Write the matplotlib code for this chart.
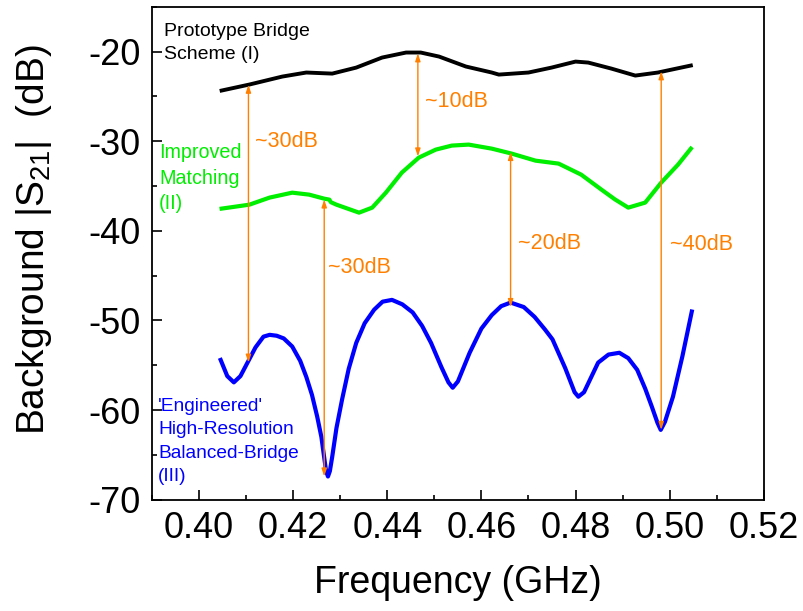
import matplotlib
matplotlib.use("Agg")
import matplotlib.pyplot as plt

plt.rcParams['font.family'] = ['Liberation Sans', 'DejaVu Sans']
plt.rcParams['mathtext.fontset'] = 'custom'
plt.rcParams['mathtext.rm'] = 'Liberation Sans'
plt.rcParams['mathtext.it'] = 'Liberation Sans:italic'
plt.rcParams['axes.unicode_minus'] = False

# (I) prototype bridge scheme
f_proto = [0.4048, 0.4107, 0.4177, 0.4228, 0.4283, 0.4334, 0.4389, 0.4440,
           0.4471, 0.4510, 0.4567, 0.4622, 0.4637, 0.4700, 0.4749, 0.4800,
           0.4827, 0.4876, 0.4927, 0.4975, 0.5045]
s_proto = [-24.35, -23.68, -22.79, -22.34, -22.46, -21.79, -20.67, -20.11,
           -20.11, -20.56, -21.67, -22.34, -22.57, -22.34, -21.79, -21.12,
           -21.23, -21.90, -22.68, -22.34, -21.56]

# (II) improved matching
f_match = [0.4048, 0.4107, 0.4150, 0.4198, 0.4234, 0.4266, 0.4277, 0.4280,
           0.4292, 0.4340, 0.4368, 0.4397, 0.4431, 0.4467, 0.4503, 0.4537,
           0.4573, 0.4622, 0.4664, 0.4715, 0.4764, 0.4812, 0.4855, 0.4884,
           0.4912, 0.4948, 0.4982, 0.5018, 0.5045]
s_match = [-37.52, -37.08, -36.29, -35.74, -35.96, -36.41, -36.52, -36.8,
           -37.08, -37.97, -37.41, -35.74, -33.50, -31.83, -30.94, -30.49,
           -30.38, -30.83, -31.38, -32.17, -32.50, -33.73, -35.40, -36.5,
           -37.41, -36.85, -34.62, -32.6, -30.83]

# (III) engineered high-resolution balanced bridge
f_bridge = [0.4046, 0.4060, 0.4074, 0.4088, 0.4103, 0.4120, 0.4137, 0.4150,
            0.4165, 0.4180, 0.4198, 0.4215, 0.4228, 0.4240, 0.4251, 0.4260,
            0.4266, 0.4270, 0.4274, 0.4278, 0.4283, 0.4292, 0.4304, 0.4318,
            0.4334, 0.4352, 0.4372, 0.4390, 0.4410, 0.4432, 0.4454, 0.4474,
            0.4493, 0.4515, 0.4530, 0.4539, 0.4550, 0.4575, 0.4600, 0.4622,
            0.4642, 0.4662, 0.4690, 0.4713, 0.4735, 0.4751, 0.4778, 0.4798,
            0.4806, 0.4818, 0.4848, 0.4870, 0.4893, 0.4912, 0.4931, 0.4948,
            0.4962, 0.4974, 0.4981, 0.4990, 0.5007, 0.5027, 0.5047]
s_bridge = [-54.4, -56.2, -56.9, -56.2, -54.7, -53.0, -51.8, -51.6,
            -51.7, -52.0, -52.9, -54.5, -56.3, -58.3, -60.7, -63.0,
            -65.3, -66.8, -67.4, -66.8, -65.2, -62.0, -58.8, -55.4,
            -52.5, -50.3, -48.8, -47.9, -47.7, -48.2, -49.1, -50.6,
            -52.5, -55.2, -56.9, -57.5, -56.8, -53.6, -50.9, -49.4,
            -48.4, -48.0, -48.5, -49.6, -51.0, -52.1, -55.3, -58.0,
            -58.5, -58.0, -54.7, -53.8, -53.6, -54.2, -55.5, -57.6,
            -59.6, -61.4, -62.2, -61.3, -58.5, -54.0, -49.0]

# measured separations (x, upper end, lower end, label)
arrow_f = [0.4105, 0.4266, 0.4465, 0.4662, 0.4982]
arrow_top = [-23.7, -36.5, -20.2, -31.2, -22.2]
arrow_bot = [-54.7, -67.4, -31.7, -48.5, -62.2]
arrow_lbl = ['~30dB', '~30dB', '~10dB', '~20dB', '~40dB']
lbl_pos = [(0.4118, -30.0), (0.4274, -44.1), (0.4480, -25.6),
           (0.4678, -41.4), (0.5000, -41.5)]

orange = '#ff8000'
green = '#00ee00'

fig = plt.figure(figsize=(8.04, 6.11), dpi=100)
ax = fig.add_axes([0.189, 0.182, 0.761, 0.807])

ax.plot(f_proto, s_proto, color='black', lw=2.8, solid_joinstyle='round')
ax.plot(f_match, s_match, color=green, lw=3.0, solid_joinstyle='round')
ax.plot(f_bridge, s_bridge, color='#0000ff', lw=3.0, solid_joinstyle='round')

for x, y1, y2 in zip(arrow_f, arrow_top, arrow_bot):
    ax.annotate('', xy=(x, y2), xytext=(x, y1),
                arrowprops=dict(arrowstyle='<|-|>,head_length=0.45,head_width=0.15',
                                color=orange, lw=1.0, shrinkA=0, shrinkB=0))
for t, (x, y) in zip(arrow_lbl, lbl_pos):
    ax.text(x, y, t, color=orange, fontsize=15.5, va='center', ha='left')

ax.text(0.3925, -16.8, 'Prototype Bridge\nScheme (I)', color='black',
        fontsize=14, va='top', ha='left', linespacing=1.45)
ax.text(0.3915, -30.2, 'Improved\nMatching\n(II)', color=green,
        fontsize=14.2, va='top', ha='left', linespacing=1.45)
ax.text(0.3913, -58.6, "'Engineered'\nHigh-Resolution\nBalanced-Bridge\n(III)",
        color='#0000ff', fontsize=13.8, va='top', ha='left', linespacing=1.5)

ax.set_xlim(0.39, 0.52)
ax.set_ylim(-70, -15)
ax.set_xticks([0.40, 0.42, 0.44, 0.46, 0.48, 0.50, 0.52])
ax.set_xticks([0.39 + 0.01 * i for i in range(14)], minor=True)
ax.set_yticks([-70, -60, -50, -40, -30, -20])
ax.set_yticks([-70 + 5 * i for i in range(12)], minor=True)
ax.set_xticklabels(['0.40', '0.42', '0.44', '0.46', '0.48', '0.50', '0.52'])
ax.tick_params(which='both', direction='in', top=False, right=False,
               labelsize=26, width=1.2)
ax.tick_params(which='major', length=7, pad=8)
ax.tick_params(which='minor', length=3.5)
for sp in ax.spines.values():
    sp.set_linewidth(1.3)

ax.set_xlabel('Frequency (GHz)', fontsize=27, labelpad=14)
ax.set_ylabel('Background |S$_{21}$|  (dB)', fontsize=28)
ax.yaxis.set_label_coords(-0.160, 0.527)

fig.savefig('out.png', dpi=100)
